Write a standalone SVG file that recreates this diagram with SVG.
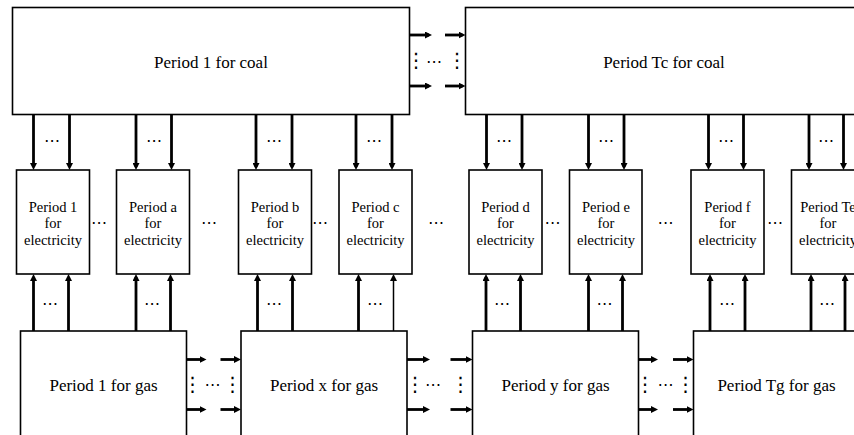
<svg xmlns="http://www.w3.org/2000/svg" width="854" height="435" viewBox="0 0 854 435">
<style>
.box{fill:#fff;stroke:#000;stroke-width:1.6}
.t{font-family:"Liberation Serif","Times New Roman",serif;fill:#000;text-anchor:middle}
.big{font-size:17px}
.sm{font-size:14.5px}
.ln{stroke:#000;stroke-width:2.8;fill:none}
.thin{stroke-width:1.5}
.d{font-family:"DejaVu Sans",sans-serif;font-size:16px;fill:#000;text-anchor:middle}
.v{font-family:"DejaVu Sans",sans-serif;font-size:20px;fill:#000;text-anchor:middle}
</style>
<defs>
<marker id="ah" viewBox="0 0 7 7" refX="4" refY="3.5" markerWidth="7" markerHeight="7" markerUnits="userSpaceOnUse" orient="auto">
<path d="M0,0 L7,3.5 L0,7 z" fill="#000"/>
</marker>
</defs>
<rect width="854" height="435" fill="#fff"/>

<g id="connectors">
<!-- coal to coal -->
<line class="ln" x1="409.5" y1="35" x2="429" y2="35" marker-end="url(#ah)"/>
<line class="ln" x1="445" y1="35" x2="462.5" y2="35" marker-end="url(#ah)"/>
<line class="ln" x1="409.5" y1="86" x2="429" y2="86" marker-end="url(#ah)"/>
<line class="ln" x1="445" y1="86" x2="462.5" y2="86" marker-end="url(#ah)"/>
<text class="v" x="416" y="67">⋮</text>
<text class="v" x="457" y="67">⋮</text>
<text class="d" x="434" y="67">⋯</text>

<!-- gas to gas -->
<line class="ln" x1="186.5" y1="359.5" x2="203.5" y2="359.5" marker-end="url(#ah)"/>
<line class="ln" x1="220.5" y1="359.5" x2="238" y2="359.5" marker-end="url(#ah)"/>
<line class="ln" x1="186.5" y1="409.5" x2="203.5" y2="409.5" marker-end="url(#ah)"/>
<line class="ln" x1="220.5" y1="409.5" x2="238" y2="409.5" marker-end="url(#ah)"/>
<text class="v" x="192.5" y="391">⋮</text>
<text class="v" x="232.5" y="391">⋮</text>
<text class="d" x="212.5" y="390">⋯</text>

<line class="ln" x1="407" y1="359.5" x2="427" y2="359.5" marker-end="url(#ah)"/>
<line class="ln" x1="450.5" y1="359.5" x2="469.5" y2="359.5" marker-end="url(#ah)"/>
<line class="ln" x1="407" y1="409.5" x2="427" y2="409.5" marker-end="url(#ah)"/>
<line class="ln" x1="450.5" y1="409.5" x2="469.5" y2="409.5" marker-end="url(#ah)"/>
<text class="v" x="415" y="391">⋮</text>
<text class="v" x="460.5" y="391">⋮</text>
<text class="d" x="433" y="390">⋯</text>

<line class="ln" x1="638.5" y1="359.5" x2="655" y2="359.5" marker-end="url(#ah)"/>
<line class="ln" x1="673" y1="359.5" x2="690.5" y2="359.5" marker-end="url(#ah)"/>
<line class="ln" x1="638.5" y1="409.5" x2="655" y2="409.5" marker-end="url(#ah)"/>
<line class="ln" x1="673" y1="409.5" x2="690.5" y2="409.5" marker-end="url(#ah)"/>
<text class="v" x="645" y="391">⋮</text>
<text class="v" x="685.5" y="391">⋮</text>
<text class="d" x="665.5" y="390">⋯</text>

<!-- coal to electricity (down) -->
<line class="ln" x1="33.5" y1="114.5" x2="33.5" y2="167" marker-end="url(#ah)"/>
<line class="ln" x1="69.5" y1="114.5" x2="69.5" y2="167" marker-end="url(#ah)"/>
<text class="d" x="52" y="146">⋯</text>
<line class="ln" x1="136" y1="114.5" x2="136" y2="167" marker-end="url(#ah)"/>
<line class="ln" x1="171.5" y1="114.5" x2="171.5" y2="167" marker-end="url(#ah)"/>
<text class="d" x="154" y="146">⋯</text>
<line class="ln" x1="256" y1="114.5" x2="256" y2="167" marker-end="url(#ah)"/>
<line class="ln" x1="292" y1="114.5" x2="292" y2="167" marker-end="url(#ah)"/>
<text class="d" x="274" y="146">⋯</text>
<line class="ln" x1="356" y1="114.5" x2="356" y2="167" marker-end="url(#ah)"/>
<line class="ln" x1="392" y1="114.5" x2="392" y2="167" marker-end="url(#ah)"/>
<text class="d" x="374" y="146">⋯</text>
<line class="ln" x1="486.5" y1="114.5" x2="486.5" y2="167" marker-end="url(#ah)"/>
<line class="ln" x1="522" y1="114.5" x2="522" y2="167" marker-end="url(#ah)"/>
<text class="d" x="504" y="146">⋯</text>
<line class="ln" x1="588.5" y1="114.5" x2="588.5" y2="167" marker-end="url(#ah)"/>
<line class="ln" x1="624" y1="114.5" x2="624" y2="167" marker-end="url(#ah)"/>
<text class="d" x="606" y="146">⋯</text>
<line class="ln" x1="708.5" y1="114.5" x2="708.5" y2="167" marker-end="url(#ah)"/>
<line class="ln" x1="743.5" y1="114.5" x2="743.5" y2="167" marker-end="url(#ah)"/>
<text class="d" x="726" y="146">⋯</text>
<line class="ln" x1="809" y1="114.5" x2="809" y2="167" marker-end="url(#ah)"/>
<line class="ln" x1="843.5" y1="114.5" x2="843.5" y2="167" marker-end="url(#ah)"/>
<text class="d" x="826" y="146">⋯</text>

<!-- gas to electricity (up) -->
<line class="ln" x1="33.5" y1="331" x2="33.5" y2="277" marker-end="url(#ah)"/>
<line class="ln" x1="68.5" y1="331" x2="68.5" y2="277" marker-end="url(#ah)"/>
<text class="d" x="50" y="309">⋯</text>
<line class="ln" x1="136" y1="331" x2="136" y2="277" marker-end="url(#ah)"/>
<line class="ln" x1="170.5" y1="331" x2="170.5" y2="277" marker-end="url(#ah)"/>
<text class="d" x="152" y="309">⋯</text>
<line class="ln" x1="257.5" y1="331" x2="257.5" y2="277" marker-end="url(#ah)"/>
<line class="ln" x1="292.5" y1="331" x2="292.5" y2="277" marker-end="url(#ah)"/>
<text class="d" x="274" y="309">⋯</text>
<line class="ln" x1="358.5" y1="331" x2="358.5" y2="277" marker-end="url(#ah)"/>
<line class="ln thin" x1="393.5" y1="331" x2="393.5" y2="277" marker-end="url(#ah)"/>
<text class="d" x="375" y="309">⋯</text>
<line class="ln" x1="486" y1="331" x2="486" y2="277" marker-end="url(#ah)"/>
<line class="ln" x1="520.5" y1="331" x2="520.5" y2="277" marker-end="url(#ah)"/>
<text class="d" x="502" y="309">⋯</text>
<line class="ln" x1="588.5" y1="331" x2="588.5" y2="277" marker-end="url(#ah)"/>
<line class="ln" x1="622.5" y1="331" x2="622.5" y2="277" marker-end="url(#ah)"/>
<text class="d" x="604.5" y="309">⋯</text>
<line class="ln" x1="710" y1="331" x2="710" y2="277" marker-end="url(#ah)"/>
<line class="ln" x1="745" y1="331" x2="745" y2="277" marker-end="url(#ah)"/>
<text class="d" x="727" y="309">⋯</text>
<line class="ln" x1="811" y1="331" x2="811" y2="277" marker-end="url(#ah)"/>
<line class="ln" x1="845" y1="331" x2="845" y2="277" marker-end="url(#ah)"/>
<text class="d" x="827" y="309">⋯</text>

<!-- between electricity boxes -->
<text class="d" x="99" y="228">⋯</text>
<text class="d" x="209" y="228">⋯</text>
<text class="d" x="320" y="228">⋯</text>
<text class="d" x="436" y="228">⋯</text>
<text class="d" x="552.5" y="228">⋯</text>
<text class="d" x="665.5" y="228">⋯</text>
<text class="d" x="775" y="228">⋯</text>
</g>

<g id="coal1"><rect class="box" x="12.5" y="7.5" width="397" height="107"/><text class="t big" x="211" y="68">Period 1 for coal</text></g>
<g id="coalTc"><rect class="box" x="465.5" y="7.5" width="397" height="107"/><text class="t big" x="664" y="68">Period Tc for coal</text></g>

<g id="elec1"><rect class="box" x="16.5" y="170" width="73" height="104"/><text class="t sm" x="53" y="212">Period 1</text><text class="t sm" x="53" y="228">for</text><text class="t sm" x="53" y="245">electricity</text></g>
<g id="eleca"><rect class="box" x="116.5" y="170" width="73" height="104"/><text class="t sm" x="153" y="212">Period a</text><text class="t sm" x="153" y="228">for</text><text class="t sm" x="153" y="245">electricity</text></g>
<g id="elecb"><rect class="box" x="238.5" y="170" width="73" height="104"/><text class="t sm" x="275" y="212">Period b</text><text class="t sm" x="275" y="228">for</text><text class="t sm" x="275" y="245">electricity</text></g>
<g id="elecc"><rect class="box" x="339" y="170" width="73" height="104"/><text class="t sm" x="375.5" y="212">Period c</text><text class="t sm" x="375.5" y="228">for</text><text class="t sm" x="375.5" y="245">electricity</text></g>
<g id="elecd"><rect class="box" x="469" y="170" width="73" height="104"/><text class="t sm" x="505.5" y="212">Period d</text><text class="t sm" x="505.5" y="228">for</text><text class="t sm" x="505.5" y="245">electricity</text></g>
<g id="elece"><rect class="box" x="569.5" y="170" width="72.5" height="104"/><text class="t sm" x="606" y="212">Period e</text><text class="t sm" x="606" y="228">for</text><text class="t sm" x="606" y="245">electricity</text></g>
<g id="elecf"><rect class="box" x="691" y="170" width="73" height="104"/><text class="t sm" x="727.5" y="212">Period f</text><text class="t sm" x="727.5" y="228">for</text><text class="t sm" x="727.5" y="245">electricity</text></g>
<g id="elecTe"><rect class="box" x="791.5" y="170" width="73" height="104"/><text class="t sm" x="828" y="212">Period Te</text><text class="t sm" x="828" y="228">for</text><text class="t sm" x="828" y="245">electricity</text></g>

<g id="gas1"><rect class="box" x="20.5" y="331" width="166" height="108"/><text class="t big" x="103.5" y="391">Period 1 for gas</text></g>
<g id="gasx"><rect class="box" x="241" y="331" width="166" height="108"/><text class="t big" x="324" y="391">Period x for gas</text></g>
<g id="gasy"><rect class="box" x="472.5" y="331" width="166" height="108"/><text class="t big" x="555.5" y="391">Period y for gas</text></g>
<g id="gasTg"><rect class="box" x="693.5" y="331" width="166" height="108"/><text class="t big" x="776.5" y="391">Period Tg for gas</text></g>
</svg>
